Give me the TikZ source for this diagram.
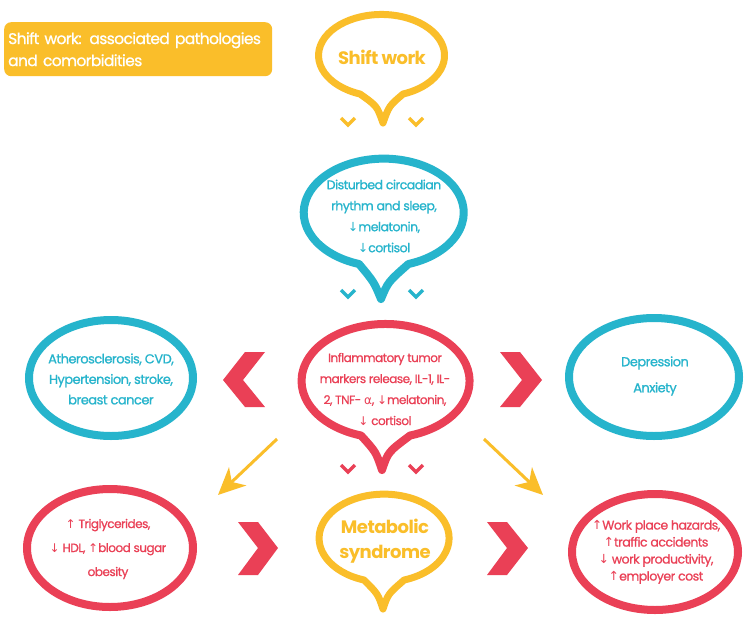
\documentclass[tikz,border=0pt]{standalone}
\usepackage{fontspec}
\setmainfont{Poppins}[LetterSpace=-4,FakeBold=0.9]
\newfontfamily\hdfont{Poppins}[LetterSpace=-3,BoldFont={* Bold}]
\newfontfamily\arr{DejaVu Sans}
\usetikzlibrary{shapes.geometric,arrows.meta}
\definecolor{myyellow}{RGB}{250,190,42}
\definecolor{mycyan}{RGB}{38,180,204}
\definecolor{myred}{RGB}{234,64,86}
\newcommand\myup{{\arr\char"2191}}
\newcommand\mydn{{\arr\char"2193}}
\newcommand\myalpha{{\arr\char"03B1}}
\begin{document}
\begin{tikzpicture}[x=1pt,y=1pt,yscale=-1,
  bub/.style={line width=7pt,line join=round},
  ell/.style={ellipse,line width=8pt,inner sep=0pt},
  smallchev/.style={line width=3.5pt,line join=miter},
  bigchev/.style={fill=myred},
  diag/.style={myyellow,line width=3pt,-{Stealth[length=27pt,width=25pt,inset=8pt]}},
  txt/.style={align=center,font=\fontsize{12.5}{21}\selectfont},
  hd/.style={align=center,font=\hdfont\bfseries\fontsize{18}{25}\selectfont}]
\useasboundingbox (0,0) rectangle (750,619);
\fill[white] (0,0) rectangle (750,619);
% title
\node[fill=myyellow,rounded corners=7pt,anchor=north west,minimum width=268pt,minimum height=54pt,
  text width=260pt,inner xsep=4pt,align=left,text=white,
  font=\fontsize{15.5}{22}\selectfont] (title) at (4,22)
  {Shift work: associated pathologies\\and comorbidities};
% Shift work bubble
\draw[bub,myyellow] (360,94) arc[start angle=110,end angle=430,x radius=63,y radius=41]
  .. controls (389,106) .. (383,123) .. controls (377,106) .. (360,94) -- cycle;
\node[hd,text=myyellow] (shift) at (382,57) {Shift work};
\draw[smallchev,myyellow] (341,118) -- (348,125) -- (355,118);
\draw[smallchev,myyellow] (409,118) -- (416,125) -- (423,118);
% Disturbed bubble
\draw[bub,line width=8pt,mycyan] (359,264) arc[start angle=108,end angle=432,x radius=80,y radius=54]
  .. controls (388,282) .. (381,299) .. controls (374,282) .. (359,264) -- cycle;
\node[txt,text=mycyan,font=\fontsize{12.5}{21}\selectfont] (dist) at (384,216) {Disturbed circadian\\rhythm and sleep,\\\mydn melatonin,\\\mydn cortisol};
\draw[smallchev,mycyan] (341,290) -- (348,297) -- (355,290);
\draw[smallchev,mycyan] (409,290) -- (416,297) -- (423,290);
% Inflammatory bubble
\draw[bub,line width=8pt,myred] (361,435.5) arc[start angle=107,end angle=433,x radius=84,y radius=57]
  .. controls (388,452) .. (382,470) .. controls (376,452) .. (361,435.5) -- cycle;
\node[txt,text=myred,font=\fontsize{12}{21}\selectfont] (infl) at (385,389) {Inflammatory tumor\\markers release, IL-1, IL-\\2, TNF- \myalpha, \mydn melatonin,\\\mydn\ cortisol};
\draw[smallchev,myred] (341,465) -- (348,472) -- (355,465);
\draw[smallchev,myred] (409,465) -- (416,472) -- (423,465);
% Metabolic bubble
\draw[bub,myyellow] (364,580) arc[start angle=108,end angle=432,x radius=65,y radius=44]
  .. controls (388,594) .. (383,609) .. controls (378,594) .. (364,580) -- cycle;
\node[hd,text=myyellow] (meta) at (385,541) {Metabolic\\syndrome};
% side ellipses
\node[ell,draw=mycyan,minimum width=164pt,minimum height=116pt] (athE) at (111,378) {};
\node[txt,text=mycyan,font=\fontsize{13}{20.5}\selectfont] (ath) at (111,379) {Atherosclerosis, CVD,\\Hypertension, stroke,\\breast cancer};
\node[ell,draw=mycyan,minimum width=170pt,minimum height=118pt] (depE) at (654,377) {};
\node[txt,text=mycyan,font=\fontsize{13}{26}\selectfont] (dep) at (655,376) {Depression\\Anxiety};
\node[ell,draw=myred,minimum width=166pt,minimum height=118pt] (triE) at (110,548) {};
\node[txt,text=myred,font=\fontsize{12}{24}\selectfont] (tri) at (108,549) {\myup\ Triglycerides,\\\mydn\ HDL, \myup blood sugar\\obesity};
\node[ell,draw=myred,minimum width=166pt,minimum height=116pt] (workE) at (655,552) {};
\node[txt,text=myred,font=\fontsize{12.5}{17}\selectfont] (work) at (656,552) {\myup Work place hazards,\\\myup traffic accidents\\\mydn\ work productivity,\\\myup employer cost};
% big chevrons
\fill[bigchev] (245,352) -- (265,352) -- (243,380) -- (265,407) -- (245,407) -- (223,380) -- cycle;
\fill[bigchev] (500,352) -- (520,352) -- (542,380) -- (520,407) -- (500,407) -- (522,380) -- cycle;
\fill[bigchev] (238,522) -- (258,522) -- (278,548) -- (258,575) -- (238,575) -- (258,548) -- cycle;
\fill[bigchev] (487,522) -- (507,522) -- (528,548) -- (507,575) -- (487,575) -- (507,548) -- cycle;
% diagonal arrows
\coordinate (a1s) at (277,439);
\coordinate (a1e) at (218,495);
\coordinate (a2s) at (484,439);
\coordinate (a2e) at (543,495);
\draw[diag] (a1s) -- (a1e);
\draw[diag] (a2s) -- (a2e);
\end{tikzpicture}
\end{document}
